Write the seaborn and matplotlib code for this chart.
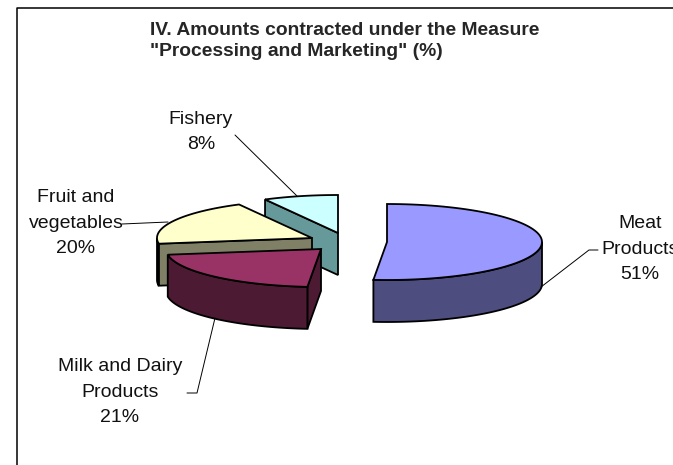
import numpy as np
import matplotlib
matplotlib.use("Agg")
import matplotlib.pyplot as plt
from matplotlib.patches import Polygon
import seaborn as sns

categories = ["Meat\nProducts", "Milk and Dairy\nProducts", "Fruit and\nvegetables", "Fishery"]
shares = [51.4, 21.2, 19.6, 7.8]
top_colors = ["#9999FF", "#993366", "#FFFFCC", "#CCFFFF"]
side_colors = ["#4D4D80", "#4D1A33", "#808066", "#669999"]
title = 'IV. Amounts contracted under the Measure\n"Processing and Marketing" (%)'

# exploded centre of each slice, in pixels
centers = [(387, 242), (321, 249), (312, 238), (338, 233)]
label_pos = [(640, 249), (120, 392), (76, 223), (201, 132)]
leaders = [
    [(541, 287), (589, 250), (598, 250)],
    [(215, 318), (197, 393), (187, 393)],
    [(168, 222), (122, 224)],
    [(297, 196), (235, 135)],
]
RX, RY, DEPTH = 155, 38, 42

sns.set_style("white")
plt.rcParams["font.family"] = ["Liberation Sans", "DejaVu Sans"]

fig = plt.figure(figsize=(6.73, 4.65), dpi=100)
ax = fig.add_axes([0, 0, 1, 1])
ax.set_xlim(0, 673)
ax.set_ylim(465, 0)
ax.axis("off")

# chart border, only top and left show
ax.plot([17, 17, 673], [465, 8, 8], color="black", lw=1.1)


def rim(cx, cy, a0, a1):
    t = np.radians(np.linspace(a0, a1, 80))
    return np.column_stack([cx + RX * np.sin(t), cy - RY * np.cos(t)])


edges = np.concatenate([[0], np.cumsum(shares)]) * 3.6

for i in range(len(shares) - 1, -1, -1):
    cx, cy = centers[i]
    a0, a1 = edges[i], edges[i + 1]

    # cut face on the start radius, if it faces the viewer
    if np.cos(np.radians(a0 - 90)) < -1e-6:
        p = rim(cx, cy, a0, a0)[0]
        face = [(cx, cy), p, (p[0], p[1] + DEPTH), (cx, cy + DEPTH)]
        ax.add_patch(Polygon(face, fc=side_colors[i], ec="black", lw=1.3))

    # outer wall for the part of the rim in front
    lo, hi = max(a0, 90), min(a1, 270)
    if hi > lo:
        r = rim(cx, cy, lo, hi)
        wall = np.vstack([r, (r + [0, DEPTH])[::-1]])
        ax.add_patch(Polygon(wall, fc=side_colors[i], ec="black", lw=1.3))

    top = np.vstack([[(cx, cy)], rim(cx, cy, a0, a1)])
    ax.add_patch(Polygon(top, fc=top_colors[i], ec="black", lw=1.3))

for line in leaders:
    xs, ys = zip(*line)
    ax.plot(xs, ys, color="black", lw=0.7)

# the reference cuts "Products" at the right edge too
for name, share, (x, y) in zip(categories, shares, label_pos):
    ax.text(x, y, f"{name}\n{share:.0f}%", ha="center", va="center",
            fontsize=14, linespacing=1.62, color="#111111")

ax.text(150, 41, title, ha="left", va="center", fontsize=13.9, fontweight="bold",
        linespacing=1.38)

fig.savefig("out.png", dpi=100)
